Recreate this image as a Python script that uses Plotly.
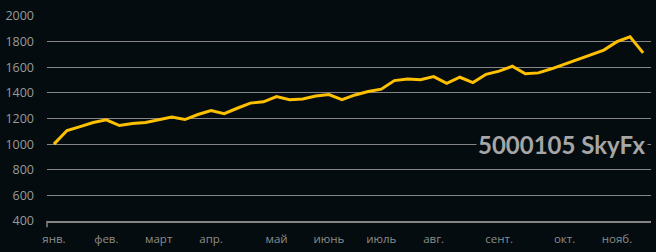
import plotly.graph_objects as go

weeks = list(range(46))
values = [1000, 1106, 1137, 1169, 1190, 1145, 1161, 1169, 1190, 1211, 1192, 1231,
          1262, 1238, 1280, 1320, 1330, 1371, 1346, 1352, 1376, 1387, 1348, 1384,
          1410, 1429, 1496, 1509, 1502, 1527, 1475, 1522, 1480, 1545, 1570, 1608,
          1549, 1556, 1588, 1626, 1662, 1700, 1734, 1800, 1838, 1712]
month_pos = [0, 4, 8, 12, 17, 21, 25, 29, 34, 39, 43]
month_labels = ["янв.", "фев.", "март", "апр.", "май", "июнь", "июль", "авг.",
                "сент.", "окт.", "нояб."]
y_ticks = [400, 600, 800, 1000, 1200, 1400, 1600, 1800, 2000]

BG = "#040c0f"
TXT = "#9a9a9a"
GRID = "#858585"

fig = go.Figure()
fig.add_trace(go.Scatter(x=weeks, y=values, mode="lines",
                         line=dict(color="#FFC000", width=3),
                         hoverinfo="skip", showlegend=False))

fig.update_layout(
    width=656, height=252,
    margin=dict(l=45, r=5, t=16, b=31),
    paper_bgcolor=BG, plot_bgcolor=BG,
    font=dict(family="Open Sans, DejaVu Sans, sans-serif", size=12, color=TXT),
    xaxis=dict(range=[-0.53, 45.6], tickmode="array", tickvals=month_pos,
               ticktext=month_labels, showgrid=False, zeroline=False,
               showline=True, linecolor=GRID, linewidth=1.5, ticks="",
               ticklabelstandoff=6,
               tickfont=dict(size=11.5, color="#8c8c8c")),
    yaxis=dict(range=[400, 2000], tickmode="array", tickvals=y_ticks,
               showgrid=True, gridcolor=GRID, gridwidth=1,
               zeroline=False, showline=False, ticks="",
               ticklabelstandoff=12, tickfont=dict(size=12.5, color=TXT)),
    annotations=[dict(text="<b>5000105 SkyFx</b>", xref="paper", yref="paper",
                      x=0.995, y=0.375, xanchor="right", yanchor="middle",
                      showarrow=False, bgcolor=BG,
                      font=dict(family="Lato, Open Sans, sans-serif", size=24,
                                color="#a6a6a6"))],
    shapes=[dict(type="line", xref="paper", yref="paper", x0=0, x1=0,
                 y0=0, y1=-0.03, line=dict(color=GRID, width=1.5))],
)

fig.write_html("out.html")
